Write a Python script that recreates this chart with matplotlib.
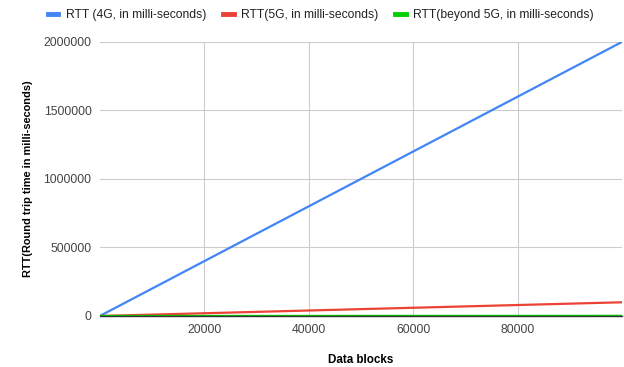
import numpy as np
import matplotlib
matplotlib.use('Agg')
import matplotlib.pyplot as plt

plt.rcParams['font.family'] = ['Liberation Sans', 'DejaVu Sans']

# data blocks and round trip times (ms)
blocks = [1, 20000, 40000, 60000, 80000, 100000]
rtt_4g = [20, 400000, 800000, 1200000, 1600000, 2000000]
rtt_5g = [1, 20000, 40000, 60000, 80000, 100000]
rtt_b5g = [0.01, 200, 400, 600, 800, 1000]

xticks = [20000, 40000, 60000, 80000]
yticks = [0, 500000, 1000000, 1500000, 2000000]

fig = plt.figure(figsize=(6.24, 3.67), dpi=100)
ax = fig.add_axes([0.160, 0.139, 0.837, 0.747])

ax.plot(blocks, rtt_4g, color='#4285F4', linewidth=1.6, label='RTT (4G, in milli-seconds)')
ax.plot(blocks, rtt_5g, color='#EA4335', linewidth=1.6, label='RTT(5G, in milli-seconds)')
ax.plot(blocks, rtt_b5g, color='#00D000', linewidth=1.6, label='RTT(beyond 5G, in milli-seconds)')

ax.set_xlim(0, 100000)
ax.set_ylim(0, 2000000)
ax.set_xticks(xticks)
ax.set_yticks(yticks)
ax.set_xticklabels([str(t) for t in xticks])
ax.set_yticklabels([str(t) for t in yticks])
ax.tick_params(length=0, labelsize=8.8, colors='#444444', pad=6)
ax.grid(True, color='#cccccc', linewidth=0.8)
ax.set_axisbelow(True)

for s in ['top', 'right', 'left']:
    ax.spines[s].set_visible(False)
ax.spines['bottom'].set_color('#333333')
ax.spines['bottom'].set_linewidth(1)

ax.set_xlabel('Data blocks', fontsize=8.4, fontweight='bold', labelpad=13)
ax.set_ylabel('RTT(Round trip time in milli-seconds)', fontsize=7.9, fontweight='bold', labelpad=7.5)

leg = fig.legend(loc='upper center', bbox_to_anchor=(0.514, 1.005), ncol=3, frameon=False,
                 fontsize=8.7, handlelength=0.9, handletextpad=0.6, columnspacing=1.4,
                 labelcolor='#222222')
for h in leg.get_lines():
    h.set_linewidth(3.5)

fig.savefig('out.png', dpi=100)
